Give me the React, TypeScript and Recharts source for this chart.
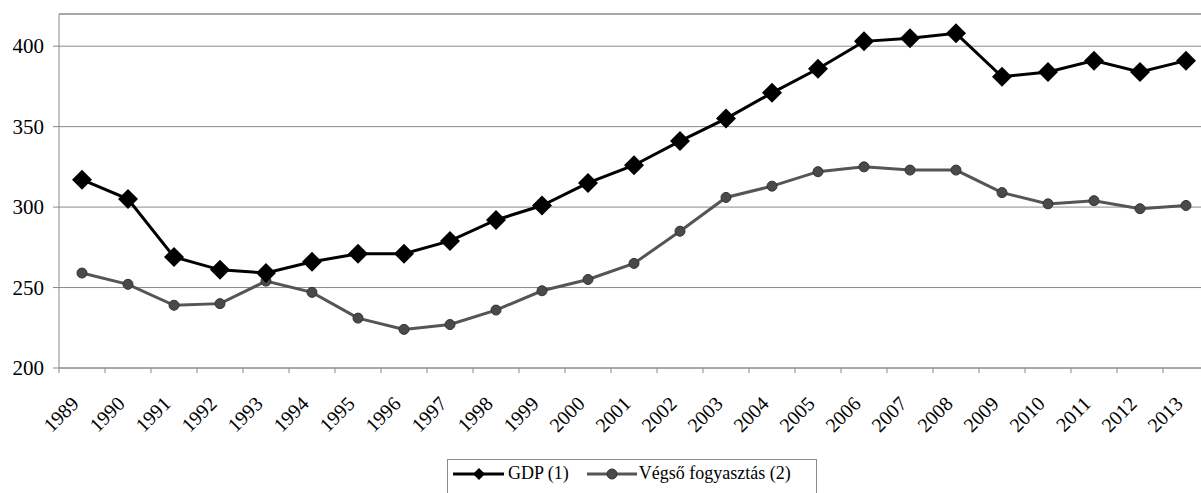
import { CartesianGrid, Legend, Line, LineChart, ReferenceLine, XAxis, YAxis } from 'recharts';

const years = [
  1989, 1990, 1991, 1992, 1993, 1994, 1995, 1996, 1997, 1998, 1999, 2000, 2001,
  2002, 2003, 2004, 2005, 2006, 2007, 2008, 2009, 2010, 2011, 2012, 2013,
];

const gdp = [
  317, 305, 269, 261, 259, 266, 271, 271, 279, 292, 301, 315, 326,
  341, 355, 371, 386, 403, 405, 408, 381, 384, 391, 384, 391,
];

const consumption = [
  259, 252, 239, 240, 254, 247, 231, 224, 227, 236, 248, 255, 265,
  285, 306, 313, 322, 325, 323, 323, 309, 302, 304, 299, 301,
];

const yTicks = [200, 250, 300, 350, 400];

const seriesNames = ['GDP (1)', 'Végső fogyasztás (2)'];

const FONT = 'Liberation Serif';
const GRID = '#8a8a8a';

const data = years.map((year, i) => ({ year, gdp: gdp[i], cons: consumption[i] }));

// tick marks sit on the category boundaries, labels belong to the category after them
const boundaries = years.map((y) => y - 0.5);

const Diamond = (props: any) => {
  const { cx, cy } = props;
  if (cx == null || cy == null) return null;
  const r = 10;
  return <path d={`M${cx},${cy - r}L${cx + r},${cy}L${cx},${cy + r}L${cx - r},${cy}Z`} fill="#000" />;
};

const YearTick = (props: any) => {
  const { x, y, payload } = props;
  const ax = x + 21;
  const ay = y + 30;
  return (
    <text
      x={ax}
      y={ay}
      transform={`rotate(-45, ${ax}, ${ay})`}
      textAnchor="end"
      fill="#000"
      style={{ fontFamily: FONT, fontSize: 20 }}
    >
      {payload.value + 0.5}
    </text>
  );
};

const YTick = (props: any) => {
  const { x, y, payload } = props;
  return (
    <text x={x} y={y} dy={7} textAnchor="end" fill="#000" style={{ fontFamily: FONT, fontSize: 21 }}>
      {payload.value}
    </text>
  );
};

const LegendBox = () => (
  <div
    style={{
      border: `1px solid ${GRID}`,
      width: 370,
      height: 40,
      display: 'flex',
      alignItems: 'flex-start',
      paddingTop: 3,
      boxSizing: 'border-box',
      fontFamily: FONT,
      fontSize: 18,
      color: '#000',
      whiteSpace: 'nowrap',
    }}
  >
    <svg width={56} height={22} style={{ marginLeft: 4 }}>
      <line x1={1} y1={11} x2={52} y2={11} stroke="#000" strokeWidth={3} />
      <path d="M27,5L33,11L27,17L21,11Z" fill="#000" />
    </svg>
    <span style={{ marginRight: 16 }}>{seriesNames[0]}</span>
    <svg width={54} height={22}>
      <line x1={2} y1={11} x2={52} y2={11} stroke="#555" strokeWidth={3} />
      <circle cx={27} cy={11} r={5} fill="#4a4a4a" stroke="#333" />
    </svg>
    <span>{seriesNames[1]}</span>
  </div>
);

export default function App() {
  return (
    <div
      style={{
        position: 'absolute',
        left: 0,
        top: 0,
        width: 1201,
        height: 493,
        overflow: 'hidden',
        background: '#fff',
        fontFamily: FONT,
      }}
    >
      <LineChart width={1240} height={493} data={data} margin={{ top: 14, right: 31, left: 0, bottom: 0 }}>
        <CartesianGrid horizontal vertical={false} stroke={GRID} />
        <ReferenceLine y={420} stroke={GRID} />
        <XAxis
          dataKey="year"
          type="number"
          domain={[1988.5, 2013.5]}
          allowDataOverflow
          ticks={boundaries}
          interval={0}
          height={125}
          axisLine={{ stroke: GRID }}
          tickLine={{ stroke: GRID }}
          tickSize={5}
          tick={<YearTick />}
        />
        <YAxis
          type="number"
          domain={[200, 420]}
          allowDataOverflow
          ticks={yTicks}
          width={59}
          axisLine={{ stroke: GRID }}
          tickLine={{ stroke: GRID }}
          tickSize={6}
          tickMargin={9}
          tick={<YTick />}
        />
        <Line
          dataKey="cons"
          name={seriesNames[1]}
          stroke="#555"
          strokeWidth={3}
          dot={{ r: 5, fill: '#4a4a4a', stroke: '#333', strokeWidth: 1 }}
          isAnimationActive={false}
        />
        <Line
          dataKey="gdp"
          name={seriesNames[0]}
          stroke="#000"
          strokeWidth={3}
          dot={<Diamond />}
          isAnimationActive={false}
        />
        <Legend
          verticalAlign="middle"
          align="center"
          layout="horizontal"
          wrapperStyle={{ position: 'absolute', left: 447, top: 459, width: 'auto' }}
          content={<LegendBox />}
        />
      </LineChart>
    </div>
  );
}
